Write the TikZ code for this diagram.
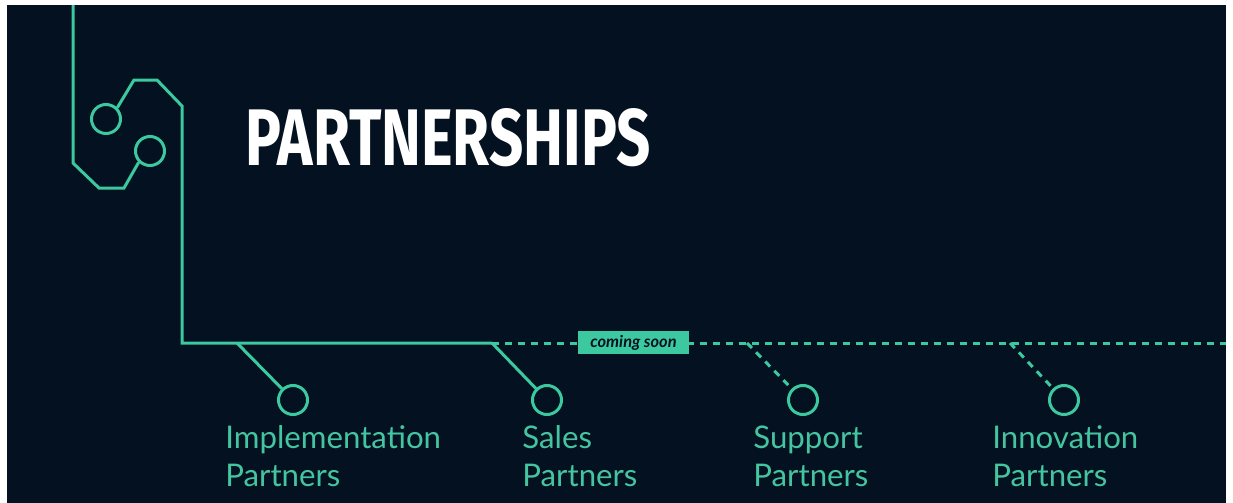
\documentclass[tikz,border=0pt]{standalone}
\usepackage{fontspec}
\setmainfont{Lato}
\newfontfamily\titlefont{Fira Sans}
\definecolor{bgnavy}{HTML}{031120}
\definecolor{teal}{HTML}{3CC9A0}
\definecolor{labelteal}{HTML}{45C4A0}
\begin{document}
\begin{tikzpicture}[x=0.5pt,y=-0.5pt,
  trace/.style={draw=teal,line width=1.5pt,line join=miter},
  dtrace/.style={draw=teal,line width=1.5pt,dash pattern=on 3.5pt off 3pt},
  pad/.style={circle,draw=teal,line width=1.5pt,minimum size=14.5pt,inner sep=0pt},
  lbl/.style={anchor=base west,inner sep=0pt,text=labelteal,font=\fontsize{15.6}{19}\selectfont,align=left}]
\useasboundingbox (0,0) rectangle (1233,503);
\fill[white] (0,0) rectangle (1233,503);
\fill[bgnavy] (7,5) rectangle (1226,503);
% top-left circuit
\coordinate (t0) at (73,5);
\coordinate (t1) at (73,163);
\coordinate (t2) at (99,188);
\coordinate (t3) at (124,188);
\coordinate (u1) at (134,80);
\coordinate (u2) at (157,80);
\coordinate (u3) at (182,106);
\coordinate (corner) at (182,343);
\coordinate (j1) at (237,343);
\coordinate (j2) at (492,343);
\coordinate (j3) at (747,343);
\coordinate (j4) at (1010,343);
\coordinate (rend) at (1226,343);
\node[pad] (c1) at (106,119) {};
\node[pad] (c2) at (150,151) {};
\draw[trace] (t0) -- (t1) -- (t2) -- (t3) -- (c2.225);
\draw[trace] (c1.45) -- (u1) -- (u2) -- (u3) -- (corner) -- (j2);
% branches
\node[pad] (p1) at (293,400) {};
\node[pad] (p2) at (547,400) {};
\node[pad] (p3) at (803,400) {};
\node[pad] (p4) at (1064,400) {};
\draw[trace] (j1) -- (p1);
\draw[trace] (j2) -- (p2);
\draw[dtrace] (j2) -- (rend);
\draw[dtrace] (j3) -- (p3);
\draw[dtrace] (j4) -- (p4);
% coming soon tag
\node[fill=teal,minimum width=55.5pt,minimum height=11.5pt,inner sep=0pt,
  font=\fontsize{8.2}{9}\selectfont\bfseries\itshape,text=bgnavy] (soon) at (633.5,342.5) {coming soon};
% title
\node[anchor=base west,inner sep=0pt,text=white] (title) at (245,165)
  {\resizebox{202.5pt}{28.5pt}{\titlefont\bfseries PARTNERSHIPS}};
% labels
\node[lbl] (l1) at (225,486) {Implementation\\Partners};
\node[lbl] (l2) at (522,486) {Sales\\Partners};
\node[lbl] (l3) at (753,486) {Support\\Partners};
\node[lbl] (l4) at (992,486) {Innovation\\Partners};
\end{tikzpicture}
\end{document}
